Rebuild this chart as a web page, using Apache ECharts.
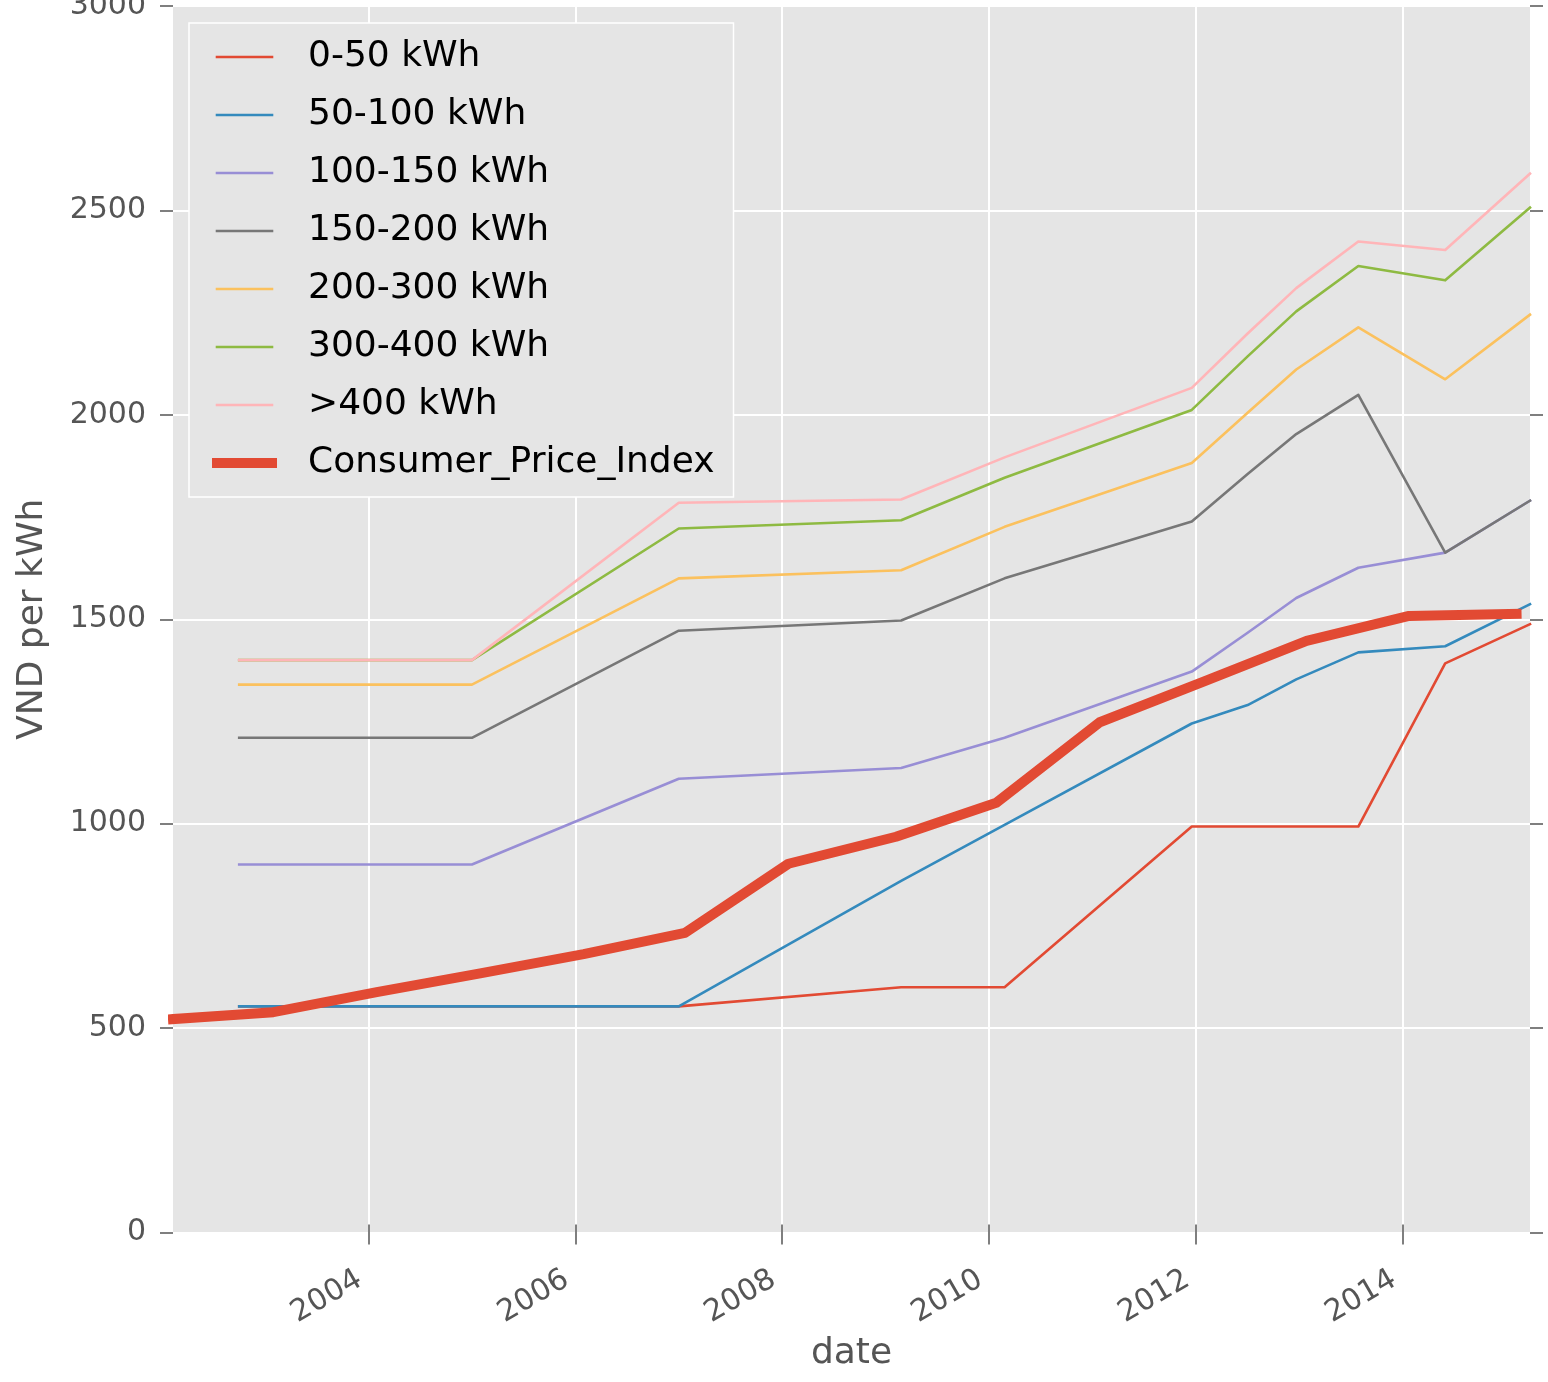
<!DOCTYPE html>
<html>
<head>
<meta charset="utf-8">
<script src="https://cdn.jsdelivr.net/npm/echarts@6/dist/echarts.min.js"></script>
<style>
  html, body { margin: 0; padding: 0; background: #ffffff; }
  #chart { width: 1548px; height: 1382px; }
</style>
</head>
<body>
<div id="chart"></div>
<script>
// ---- Data ----
const tariffDates = [2002.75, 2005.0, 2007.0, 2009.15, 2010.15, 2011.96, 2012.5, 2012.97, 2013.57, 2014.41, 2015.23];
const seriesNames = ['0-50 kWh', '50-100 kWh', '100-150 kWh', '150-200 kWh', '200-300 kWh', '300-400 kWh', '>400 kWh', 'Consumer_Price_Index'];
const tier0_50    = [553, 553, 553, 600, 600, 993, 993, 993, 993, 1392, 1488];
const tier50_100  = [553, 553, 553, 860, 997, 1245, 1290, 1353, 1419, 1434, 1537];
const tier100_150 = [900, 900, 1110, 1136, 1210, 1372, 1467, 1552, 1626, 1663, 1790];
const tier150_200 = [1210, 1210, 1472, 1497, 1600, 1739, 1855, 1953, 2049, 1663, 1790];
const tier200_300 = [1340, 1340, 1600, 1620, 1726, 1882, 2005, 2111, 2214, 2087, 2245];
const tier300_400 = [1400, 1400, 1722, 1742, 1846, 2012, 2143, 2253, 2364, 2329, 2507];
const tierOver400 = [1400, 1400, 1785, 1793, 1896, 2066, 2199, 2310, 2424, 2403, 2590];
const cpiDates  = [2002.11, 2003.08, 2004.08, 2005.08, 2006.08, 2007.06, 2008.06, 2009.1, 2010.07, 2011.07, 2012.08, 2013.07, 2014.06, 2015.1];
const cpiValues = [522, 539, 588, 634, 681, 733, 902, 968, 1051, 1248, 1348, 1447, 1508, 1513];
const xTickYears = [2004, 2006, 2008, 2010, 2012, 2014];
const xMin = 2002.11, xMax = 2015.23;
const yMin = 0, yMax = 3000, yStep = 500;

const colors = ['#E24A33', '#348ABD', '#988ED5', '#777777', '#FBC15E', '#8EBA42', '#FFB5B8', '#E24A33'];
const lineWidths = [2.6, 2.6, 2.6, 2.6, 2.6, 2.6, 2.6, 10];
const tierValues = [tier0_50, tier50_100, tier100_150, tier150_200, tier200_300, tier300_400, tierOver400];

function pairs(xs, ys) { return xs.map((x, i) => [x, ys[i]]); }

const series = tierValues.map((vals, i) => ({
  name: seriesNames[i],
  type: 'line',
  data: pairs(tariffDates, vals),
  symbol: 'none',
  lineStyle: { width: lineWidths[i], color: colors[i], join: 'round', cap: 'square' },
  itemStyle: { color: colors[i] },
  z: 2 + i
}));
series.push({
  name: seriesNames[7],
  type: 'line',
  data: pairs(cpiDates, cpiValues),
  symbol: 'none',
  lineStyle: { width: lineWidths[7], color: colors[7], join: 'round', cap: 'square' },
  itemStyle: { color: colors[7] },
  z: 20
});

const tickColor = '#555555';
const chart = echarts.init(document.getElementById('chart'));
chart.setOption({
  animation: false,
  backgroundColor: '#ffffff',
  textStyle: { fontFamily: 'DejaVu Sans' },
  grid: {
    left: 173, top: 6, right: 18, bottom: 149.5,
    show: true, backgroundColor: '#E5E5E5', borderWidth: 0,
    containLabel: false, outerBoundsMode: 'none'
  },
  legend: {
    orient: 'vertical',
    left: 189, top: 23,
    backgroundColor: '#E5E5E5',
    borderColor: '#ffffff', borderWidth: 1.5, borderRadius: 0,
    padding: [14, 19, 14, 23],
    itemWidth: 55, itemHeight: 10, itemGap: 18,
    itemStyle: { opacity: 0 },
    textStyle: { fontSize: 36, color: '#000000', fontFamily: 'DejaVu Sans', lineHeight: 40, padding: [0, 0, 0, 31] },
    data: seriesNames.map((n, i) => ({ name: n, lineStyle: { width: lineWidths[i], color: colors[i] } }))
  },
  xAxis: [
    {
      type: 'value', min: xMin, max: xMax, position: 'bottom',
      axisLine: { show: false },
      axisTick: { show: true, inside: false, length: 12, customValues: xTickYears, lineStyle: { color: tickColor, width: 1.5 } },
      axisLabel: { customValues: xTickYears, rotate: 30, margin: 40, fontSize: 30, color: tickColor, fontFamily: 'DejaVu Sans',
                   padding: [0, 10, 0, 0],
                   formatter: v => String(Math.round(v)) },
      splitLine: { show: true, lineStyle: { color: '#ffffff', width: 2 } },
      name: 'date', nameLocation: 'middle', nameGap: 103,
      nameTextStyle: { fontSize: 36, color: tickColor, fontFamily: 'DejaVu Sans' }
    },
    {
      type: 'value', min: xMin, max: xMax, position: 'top',
      axisLine: { show: false },
      axisTick: { show: true, inside: false, length: 8, customValues: xTickYears, lineStyle: { color: tickColor, width: 1.5 } },
      axisLabel: { show: false },
      splitLine: { show: false }
    }
  ],
  yAxis: [
    {
      type: 'value', min: yMin, max: yMax, interval: yStep, position: 'left',
      axisLine: { show: false },
      axisTick: { show: true, inside: false, length: 13, lineStyle: { color: tickColor, width: 1.5 } },
      axisLabel: { margin: 27, fontSize: 30, color: tickColor, fontFamily: 'DejaVu Sans', formatter: v => String(v) },
      splitLine: { show: true, lineStyle: { color: '#ffffff', width: 2 } },
      name: 'VND per kWh', nameLocation: 'middle', nameGap: 122, nameRotate: 90,
      nameTextStyle: { fontSize: 36, color: tickColor, fontFamily: 'DejaVu Sans' }
    },
    {
      type: 'value', min: yMin, max: yMax, interval: yStep, position: 'right',
      axisLine: { show: false },
      axisTick: { show: true, inside: false, length: 13, lineStyle: { color: tickColor, width: 1.5 } },
      axisLabel: { show: false },
      splitLine: { show: false }
    }
  ],
  series: series
});
</script>
</body>
</html>
